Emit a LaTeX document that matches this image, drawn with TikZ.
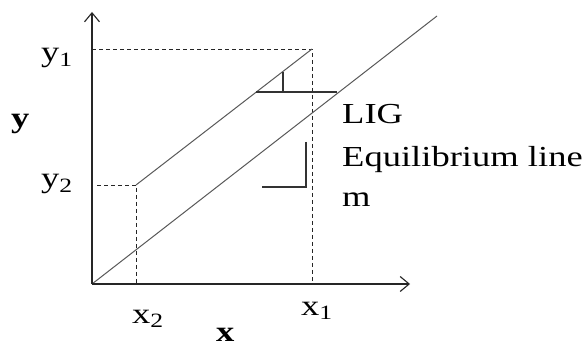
\documentclass[tikz,border=0pt]{standalone}
\usepackage{fontspec}
\setmainfont{Liberation Serif}[FakeStretch=1.26]
\usetikzlibrary{arrows.meta}
\begin{document}
\begin{tikzpicture}[x=1pt,y=-1pt,
  axis/.style={line width=1.2pt,black!85,-{Straight Barb[length=9pt,width=15pt,line width=1.1pt]}},
  diag/.style={line width=1pt,black!65},
  guide/.style={line width=0.9pt,black!85,dash pattern=on 4pt off 3pt},
  stepmark/.style={line width=1.1pt,black!80},
  lab/.style={anchor=base west,inner sep=0pt,font=\fontsize{29}{33}\selectfont}]
\useasboundingbox (0,0) rectangle (588,344);
\fill[white] (0,0) rectangle (588,344);
\coordinate (O) at (92,284);
\coordinate (ytop) at (92,12);
\coordinate (xend) at (410,284);
\coordinate (eqend) at (437,16);
\coordinate (A) at (136,185);
\coordinate (B) at (312,49);
\coordinate (y1l) at (92,49);
\coordinate (y2l) at (97,185);
\coordinate (x1b) at (312,284);
\coordinate (x2b) at (136,284);
\coordinate (s1) at (256,92);
\coordinate (s2) at (337,92);
\coordinate (t1) at (283,72);
\coordinate (t2) at (283,92);
\coordinate (l1) at (306,142);
\coordinate (l2) at (306,187);
\coordinate (l3) at (262,187);
% guides
\draw[guide] (y1l) -- (B) -- (x1b);
\draw[guide] (y2l) -- (A) -- (x2b);
% lines
\draw[diag] (O) -- (eqend);
\draw[diag] (A) -- (B);
% axes
\draw[axis] (O) -- (ytop);
\draw[axis] (O) -- (xend);
% step marks
\draw[stepmark] (s1) -- (s2);
\draw[stepmark] (t1) -- (t2);
\draw[stepmark] (l1) -- (l2) -- (l3);
% labels
\node[lab] (ly) at (11,128) {\textbf{y}};
\node[lab,text depth=0pt] (lx) at (216,341) {\textbf{x}};
\node[lab] (ly1) at (41,62) {y\textsubscript{1}};
\node[lab] (ly2) at (41,188) {y\textsubscript{2}};
\node[lab] (lx1) at (301,315) {x\textsubscript{1}};
\node[lab] (lx2) at (132,323) {x\textsubscript{2}};
\node[lab] (lig) at (342,124) {LIG};
\node[lab] (leq) at (342,167) {Equilibrium line};
\node[lab] (lm) at (342,207) {m};
\end{tikzpicture}
\end{document}
